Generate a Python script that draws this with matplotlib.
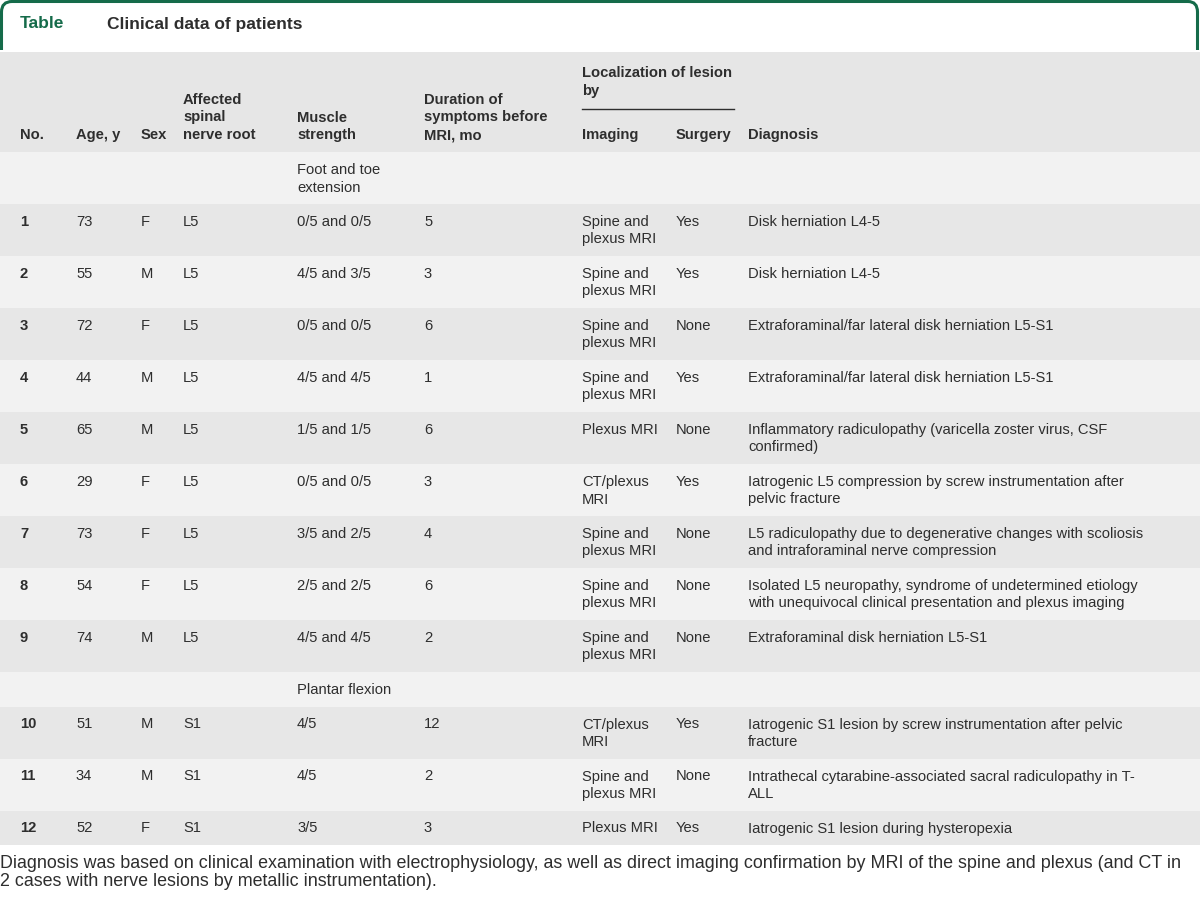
import matplotlib
matplotlib.use("Agg")
import matplotlib.pyplot as plt
from matplotlib.patches import Rectangle
from matplotlib.path import Path
from matplotlib.patches import PathPatch

plt.rcParams['font.family'] = ['Liberation Sans', 'DejaVu Sans']

# ---- data ----
title_label = "Table"
title_text = "Clinical data of patients"
headers = ["No.", "Age, y", "Sex", "Affected\nspinal\nnerve root", "Muscle\nstrength",
           "Duration of\nsymptoms before\nMRI, mo", "Imaging", "Surgery", "Diagnosis"]
group_header = "Localization of lesion\nby"
groups = ["Foot and toe\nextension", "Plantar flexion"]
group_sizes = [9, 3]
no = ["1", "2", "3", "4", "5", "6", "7", "8", "9", "10", "11", "12"]
age = ["73", "55", "72", "44", "65", "29", "73", "54", "74", "51", "34", "52"]
sex = ["F", "M", "F", "M", "M", "F", "F", "F", "M", "M", "M", "F"]
root = ["L5"] * 9 + ["S1"] * 3
strength = ["0/5 and 0/5", "4/5 and 3/5", "0/5 and 0/5", "4/5 and 4/5", "1/5 and 1/5",
            "0/5 and 0/5", "3/5 and 2/5", "2/5 and 2/5", "4/5 and 4/5", "4/5", "4/5", "3/5"]
duration = ["5", "3", "6", "1", "6", "3", "4", "6", "2", "12", "2", "3"]
imaging = ["Spine and\nplexus MRI", "Spine and\nplexus MRI", "Spine and\nplexus MRI",
           "Spine and\nplexus MRI", "Plexus MRI", "CT/plexus\nMRI", "Spine and\nplexus MRI",
           "Spine and\nplexus MRI", "Spine and\nplexus MRI", "CT/plexus\nMRI",
           "Spine and\nplexus MRI", "Plexus MRI"]
surgery = ["Yes", "Yes", "None", "Yes", "None", "Yes", "None", "None", "None", "Yes", "None", "Yes"]
diagnosis = [
    "Disk herniation L4-5",
    "Disk herniation L4-5",
    "Extraforaminal/far lateral disk herniation L5-S1",
    "Extraforaminal/far lateral disk herniation L5-S1",
    "Inflammatory radiculopathy (varicella zoster virus, CSF\nconfirmed)",
    "Iatrogenic L5 compression by screw instrumentation after\npelvic fracture",
    "L5 radiculopathy due to degenerative changes with scoliosis\nand intraforaminal nerve compression",
    "Isolated L5 neuropathy, syndrome of undetermined etiology\nwith unequivocal clinical presentation and plexus imaging",
    "Extraforaminal disk herniation L5-S1",
    "Iatrogenic S1 lesion by screw instrumentation after pelvic\nfracture",
    "Intrathecal cytarabine-associated sacral radiculopathy in T-\nALL",
    "Iatrogenic S1 lesion during hysteropexia",
]
footnote = ("Diagnosis was based on clinical examination with electrophysiology, as well as direct imaging confirmation by MRI of the spine and plexus (and CT in\n"
            "2 cases with nerve lesions by metallic instrumentation).")

# ---- style / layout ----
W, H = 1200, 900
green = "#156b4a"
txt = "#2e2e2e"
gray_row = "#e7e7e7"
light_row = "#f2f2f2"
col_x = [20, 76, 141, 183, 297, 424, 582, 676, 748]
fs = 10.6
line_h = 17.5

fig = plt.figure(figsize=(12, 9), dpi=100)
ax = fig.add_axes([0, 0, 1, 1])
ax.set_xlim(0, W)
ax.set_ylim(H, 0)
ax.axis("off")

# green tab frame
r = 12
verts = [(1.5, 50), (1.5, r), (1.5, 1.5), (r, 1.5), (W - r, 1.5), (W - 2.5, 1.5), (W - 2.5, r), (W - 2.5, 50)]
codes = [Path.MOVETO, Path.LINETO, Path.CURVE3, Path.CURVE3, Path.LINETO, Path.CURVE3, Path.CURVE3, Path.LINETO]
ax.add_patch(PathPatch(Path(verts, codes), fill=False, edgecolor=green, lw=2.2, zorder=3))
ax.text(20, 24, title_label, fontsize=12.5, fontweight="bold", color=green, va="center", ha="left")
ax.text(107, 24, title_text, fontsize=12.5, fontweight="bold", color=txt, va="center", ha="left")

# header
hdr_top, hdr_bot = 52, 152
ax.add_patch(Rectangle((0, hdr_top), W, hdr_bot - hdr_top, color="#e6e6e6", lw=0))


def draw_lines(x, y0, s, bold=False, bottom=False, size=fs, color=txt, lh=line_h):
    lines = s.split("\n")
    if bottom:
        y0 = y0 - (len(lines) - 1) * lh
    for i, ln in enumerate(lines):
        ax.text(x, y0 + i * lh, ln, fontsize=size, fontweight="bold" if bold else "normal",
                color=color, va="center", ha="left")


for x, h in zip(col_x, headers):
    draw_lines(x, 135, h, bold=True, bottom=True)
draw_lines(col_x[6], 73, group_header, bold=True)
ax.plot([col_x[6], 734], [109, 109], color=txt, lw=1.0)

# body rows
rows = []
k = 0
for g, n in zip(groups, group_sizes):
    rows.append(("group", g))
    for _ in range(n):
        rows.append(("data", k))
        k += 1

y = hdr_bot
for idx, (kind, v) in enumerate(rows):
    if kind == "group":
        nl = v.count("\n") + 1
    else:
        cells = [no[v], age[v], sex[v], root[v], strength[v], duration[v], imaging[v], surgery[v], diagnosis[v]]
        nl = max(c.count("\n") + 1 for c in cells)
    h = 17 + line_h * nl
    ax.add_patch(Rectangle((0, y), W, h, color=light_row if idx % 2 == 0 else gray_row, lw=0))
    if kind == "group":
        draw_lines(col_x[4], y + 18, v)
    else:
        for j, (x, c) in enumerate(zip(col_x, cells)):
            draw_lines(x, y + 18, c, bold=(j == 0))
    y += h

# footnote
draw_lines(0, y + 18, footnote, size=12.9, lh=19)

fig.savefig("out.png", dpi=100, facecolor="white")
